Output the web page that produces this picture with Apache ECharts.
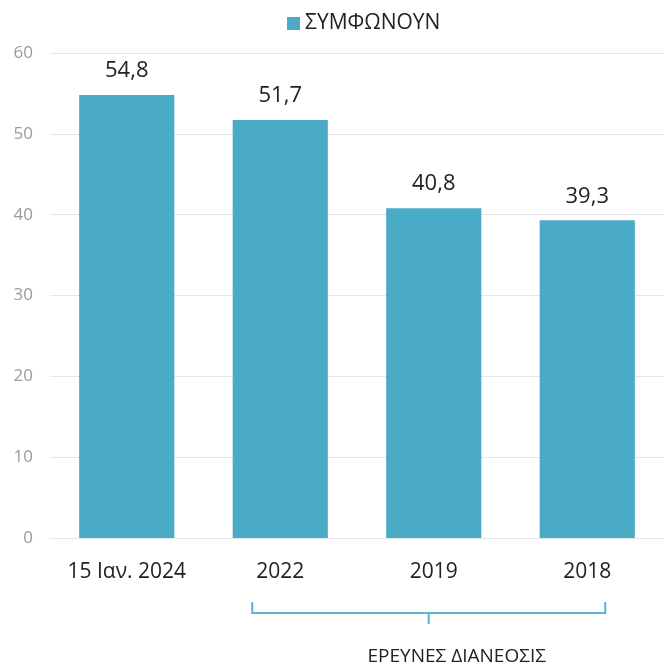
<!DOCTYPE html>
<html><head><meta charset="utf-8">
<script src="https://cdn.jsdelivr.net/npm/echarts@6/dist/echarts.min.js"></script>
<style>html,body{margin:0;padding:0;background:#fff}#c{width:664px;height:669px}</style>
</head><body><div id="c"></div>
<script>
var categories = ['15 Ιαν. 2024', '2022', '2019', '2018'];
var values = [54.8, 51.7, 40.8, 39.3];
var seriesName = 'ΣΥΜΦΩΝΟΥΝ';
var groupLabel = 'ΕΡΕΥΝΕΣ ΔΙΑΝΕΟΣΙΣ';
var FONT = '"Open Sans", "Noto Sans", sans-serif';
var chart = echarts.init(document.getElementById('c'));
chart.setOption({
  animation: false,
  textStyle: {fontFamily: FONT},
  legend: {
    top: 8, left: 282, itemWidth: 13, itemHeight: 13, itemGap: 5,
    icon: 'rect',
    textStyle: {fontSize: 21, color: '#222', fontFamily: FONT},
    data: [seriesName]
  },
  grid: {left: 50, top: 53, width: 620, height: 485, containLabel: false},
  xAxis: {
    type: 'category', data: categories,
    axisLine: {show: true, lineStyle: {color: '#e6e6e6'}},
    axisTick: {show: false},
    axisLabel: {interval: 0, hideOverlap: false, fontSize: 21, color: '#222', margin: 24, fontFamily: FONT}
  },
  yAxis: {
    type: 'value', min: 0, max: 60, interval: 10,
    axisLine: {show: false}, axisTick: {show: false},
    splitLine: {lineStyle: {color: '#e6e6e6'}},
    axisLabel: {fontSize: 17, color: '#9a9a9a', margin: 17, fontFamily: FONT}
  },
  series: [{
    name: seriesName, type: 'bar', data: values, barWidth: '62%',
    itemStyle: {color: '#4aabc6'},
    label: {
      show: true, position: 'top', distance: 13, fontSize: 22, color: '#222', fontFamily: FONT,
      formatter: function (p) { return String(p.value).replace('.', ','); }
    }
  }]
});
var p1 = chart.convertToPixel({xAxisIndex: 0}, categories[1]);
var p3 = chart.convertToPixel({xAxisIndex: 0}, categories[3]);
var xl = p1 - 28, xr = p3 + 18, xm = (xl + xr) / 2;
var col = '#5fb3ca';
chart.setOption({
  graphic: [
    {type: 'polyline', shape: {points: [[xl, 602], [xl, 613], [xr, 613], [xr, 602]]},
     style: {stroke: col, lineWidth: 2, fill: null}},
    {type: 'line', shape: {x1: xm, y1: 613, x2: xm, y2: 624}, style: {stroke: col, lineWidth: 2}},
    {type: 'text', x: xm + 28, y: 657, style: {text: groupLabel, fontSize: 19, fill: '#222', fontFamily: FONT, align: 'center', verticalAlign: 'middle'}}
  ]
});
</script></body></html>
